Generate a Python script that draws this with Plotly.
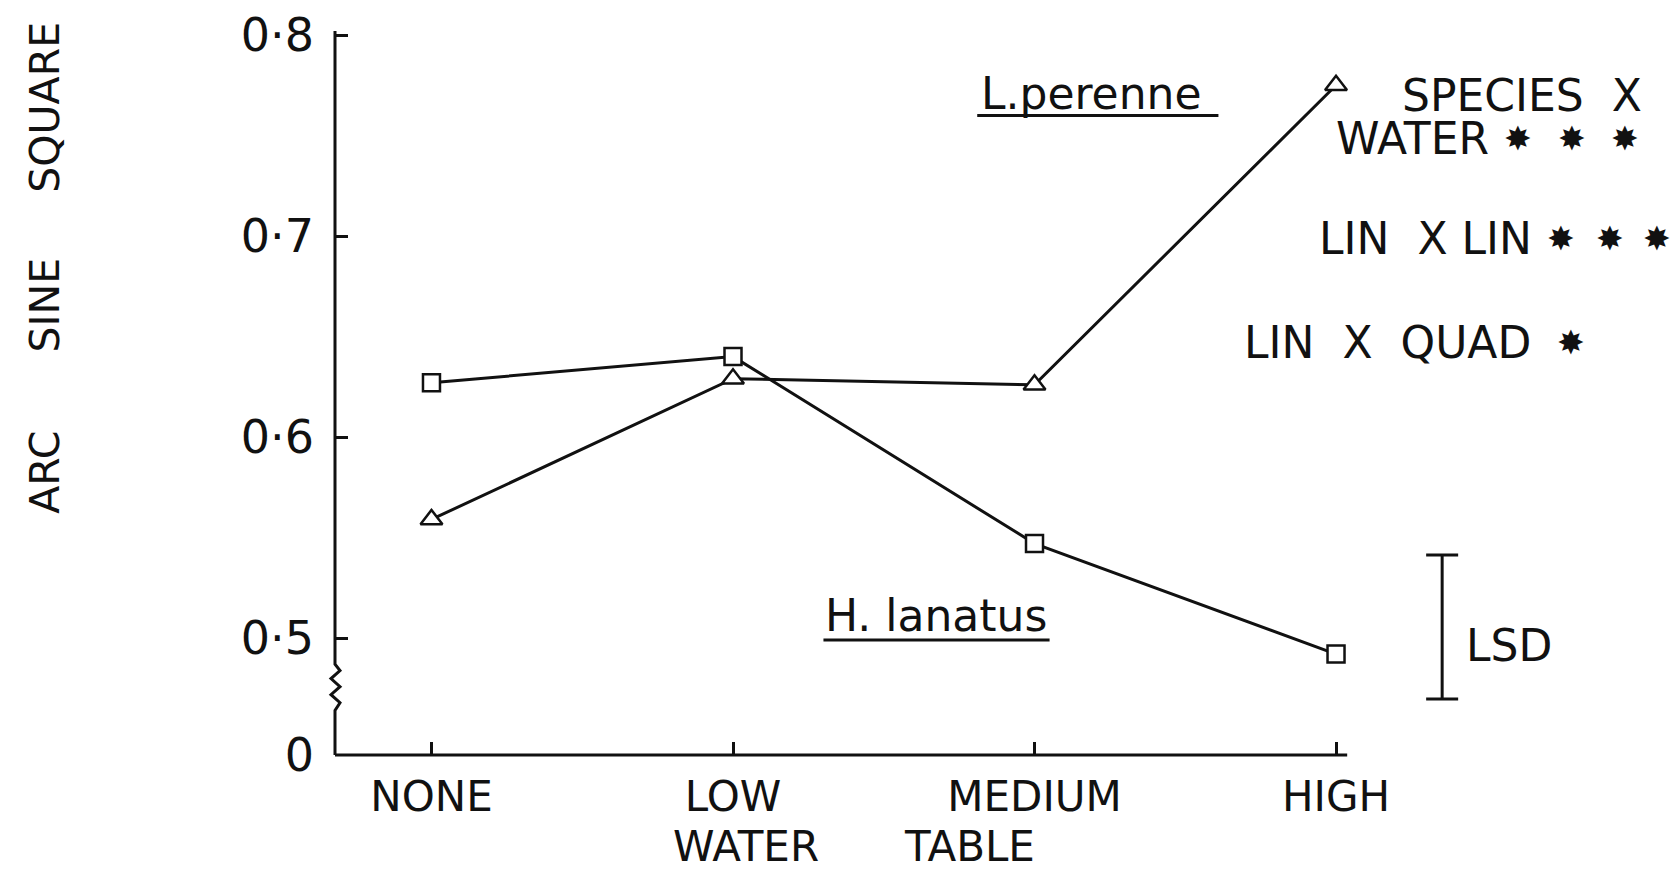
import plotly.graph_objects as go

# ── Data ──────────────────────────────────────────────────────────────────────
water_table = ["NONE", "LOW", "MEDIUM", "HIGH"]
h_lanatus = [0.627, 0.640, 0.547, 0.492]     # squares
l_perenne = [0.559, 0.629, 0.626, 0.775]     # triangles
lsd_value = 0.0716
lsd_centre = 0.5055

y_ticks = [0.4418, 0.5, 0.6, 0.7, 0.8]
y_tick_text = ["0", "0·5", "0·6", "0·7", "0·8"]

Y_MIN, Y_MAX = 0.4418, 0.802
X_MIN, X_MAX = -0.32, 4.111
X_AXIS_END = 3.037
LSD_X = 3.352

FONT = "DejaVu Sans"
BLACK = "#111111"
LW = 3
SP = "\u00a0"

x_pos = list(range(len(water_table)))

fig = go.Figure()

fig.add_trace(go.Scatter(
    x=x_pos, y=l_perenne, mode="lines+markers", name="L.perenne",
    line=dict(color=BLACK, width=LW),
    marker=dict(symbol="triangle-up", size=19, color="white",
                line=dict(color=BLACK, width=2.5)),
))
fig.add_trace(go.Scatter(
    x=x_pos, y=h_lanatus, mode="lines+markers", name="H. lanatus",
    line=dict(color=BLACK, width=LW),
    marker=dict(symbol="square", size=17, color="white",
                line=dict(color=BLACK, width=2.5)),
))

# LSD bar
fig.add_trace(go.Scatter(
    x=[LSD_X], y=[lsd_centre], mode="markers",
    marker=dict(size=1, color="rgba(0,0,0,0)"),
    error_y=dict(type="constant", value=lsd_value / 2, color=BLACK,
                 thickness=LW, width=16),
    cliponaxis=False, hoverinfo="skip",
))

# ── Axis lines (with the break on the y axis) ─────────────────────────────────
dx = 1 / 1336
zig = (f"M 0,{Y_MAX} L 0,0.4870 L {5*dx},0.4838 L {-4*dx},0.4798 "
       f"L {5*dx},0.4758 L {-4*dx},0.4718 L {5*dx},0.4678 L 0,0.4640 "
       f"L 0,{Y_MIN}")
shapes = [
    dict(type="path", xref="paper", yref="y", path=zig,
         line=dict(color=BLACK, width=LW)),
    dict(type="line", xref="x", yref="paper", x0=X_MIN, x1=X_AXIS_END,
         y0=0, y1=0, line=dict(color=BLACK, width=LW)),
    # underlines of the species labels
    dict(type="line", xref="x", yref="y", x0=1.81, x1=2.61,
         y0=0.760, y1=0.760, line=dict(color=BLACK, width=LW)),
    dict(type="line", xref="x", yref="y", x0=1.30, x1=2.05,
         y0=0.499, y1=0.499, line=dict(color=BLACK, width=LW)),
]

txt = dict(showarrow=False, xref="x", yref="y",
           font=dict(family=FONT, size=44, color=BLACK))
annotations = [
    dict(x=2.188, y=0.771, text="L.perenne", **txt),
    dict(x=1.672, y=0.511, text="H. lanatus", **txt),
    dict(x=4.022, y=0.7697, text=f"SPECIES{SP}{SP}X", xanchor="right", **txt),
    dict(x=3.514, y=0.7483, text="WATER", xanchor="right", **txt),
    dict(x=2.937, y=0.699, text=f"LIN{SP}{SP}X{SP}LIN", xanchor="left", **txt),
    dict(x=2.688, y=0.6468, text=f"LIN{SP}{SP}X{SP}{SP}QUAD", xanchor="left",
         **txt),
    dict(x=3.425, y=0.4965, text="LSD", xanchor="left", **txt),
]

# significance stars
star_rows = [
    (0.7483, [3.604, 3.783, 3.959]),
    (0.699, [3.747, 3.910, 4.066]),
    (0.6468, [3.779]),
]
for y, xs in star_rows:
    for x in xs:
        annotations.append(dict(x=x, y=y, text="✸", showarrow=False,
                                xref="x", yref="y", borderpad=0,
                                font=dict(family=FONT, size=33, color=BLACK)))

# axis titles
annotations += [
    dict(x=1.043, y=-0.1616, text="WATER", xref="x", yref="paper",
         yanchor="bottom", borderpad=0, showarrow=False,
         font=dict(family=FONT, size=42, color=BLACK)),
    dict(x=1.786, y=-0.1616, text="TABLE", xref="x", yref="paper",
         yanchor="bottom", borderpad=0, showarrow=False,
         font=dict(family=FONT, size=42, color=BLACK)),
    dict(x=-0.2173, y=0.684, text=f"ARC{SP*6}SINE{SP*5}SQUARE",
         xref="paper", yref="y", textangle=-90, xanchor="center",
         yanchor="middle", showarrow=False,
         font=dict(family=FONT, size=41, color=BLACK)),
]

fig.update_layout(
    width=1663, height=864,
    margin=dict(l=327, r=0, t=23, b=117),
    paper_bgcolor="white", plot_bgcolor="white",
    showlegend=False,
    font=dict(family=FONT, color=BLACK, size=44),
    shapes=shapes, annotations=annotations,
    xaxis=dict(range=[X_MIN, X_MAX], showline=False,
               showgrid=False, zeroline=False, ticks="inside", ticklen=13,
               tickwidth=LW, tickcolor=BLACK, ticklabelstandoff=13,
               tickvals=x_pos, ticktext=water_table,
               tickfont=dict(size=42)),
    yaxis=dict(range=[Y_MIN, Y_MAX], showline=False, showgrid=False,
               zeroline=False, ticks="inside", ticklen=13, tickwidth=LW,
               tickcolor=BLACK, tickvals=y_ticks, ticktext=y_tick_text,
               ticklabelstandoff=20, tickfont=dict(size=46)),
)

fig.write_html("out.html")
